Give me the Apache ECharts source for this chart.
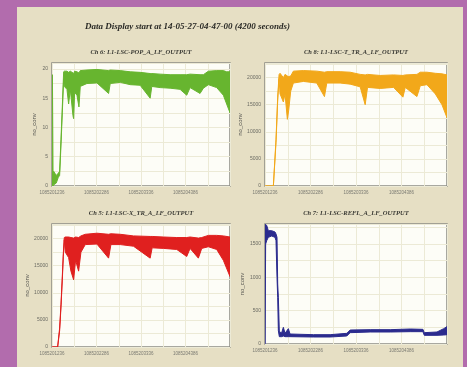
<!DOCTYPE html>
<html>
<head>
<meta charset="utf-8">
<script src="https://cdn.jsdelivr.net/npm/echarts@6/dist/echarts.min.js"></script>
<style>
  html, body { margin: 0; padding: 0; background: #b26cad; }
  #panel { position: absolute; left: 17px; top: 7px; width: 446px; height: 360px; background: #e6dfc4; }
  #chart { position: absolute; left: 0; top: 0; width: 467px; height: 367px; }
</style>
</head>
<body>
<div id="panel"></div>
<div id="chart"></div>
<script>
const GPS_START = 1085201236;
const DURATION = 4200;

// Ch 6: L1-LSC-POP_A_LF_OUTPUT (green)
const popTimes = [0, 10, 25, 40, 100, 150, 180, 212, 243, 275, 290, 353, 392, 432, 495, 510, 534, 589, 636, 667, 824, 1060, 1335, 1374, 1610, 1845, 2080, 2316, 2355, 2551, 2787, 3022, 3179, 3258, 3493, 3572, 3690, 3886, 4043, 4121, 4200];
const popLow   = [0, 0, 0, 0.2, 0.5, 1.5, 1.8, 7, 12.5, 18.3, 17, 16.5, 14, 16.5, 12, 11.5, 16, 15.5, 13.5, 17, 17.5, 17.6, 15.8, 17.5, 17.7, 17.3, 17.2, 15, 17, 16.8, 16.7, 16.5, 15.5, 16.8, 15.8, 16.7, 17.3, 16.8, 15.5, 14, 12.5];
const popHigh  = [1, 19, 2, 2.5, 1.8, 2.2, 2.5, 8, 13.5, 19.5, 19.6, 19.6, 19.4, 19.6, 19.3, 19.2, 19.6, 19.5, 19.3, 19.7, 19.8, 19.9, 19.7, 19.8, 19.7, 19.5, 19.4, 19.2, 19.2, 19.1, 19.0, 19.0, 19.0, 19.1, 19.0, 19.0, 19.6, 19.7, 19.7, 19.5, 19.5];

// Ch 8: L1-LSC-T_TR_A_LF_OUTPUT (orange)
const tTimes = [0, 193, 254, 293, 324, 347, 424, 462, 516, 547, 593, 655, 886, 1194, 1372, 1426, 1734, 1965, 2196, 2312, 2366, 2658, 2967, 3183, 3237, 3506, 3583, 3737, 3930, 4084, 4200];
const tLow   = [0, 0, 8000, 15800, 19800, 17000, 15500, 17000, 12300, 14000, 17500, 19000, 19300, 19000, 16500, 19000, 19000, 18800, 18300, 15000, 18200, 18000, 18200, 16400, 18200, 16500, 18500, 18700, 17000, 15000, 12600];
const tHigh  = [0, 0, 8600, 16400, 20550, 20800, 20000, 20600, 20300, 20200, 20300, 21200, 21300, 21200, 21000, 21100, 21100, 21000, 20600, 20500, 20600, 20400, 20500, 20400, 20500, 20600, 21000, 21000, 20800, 20700, 20500];

// Ch 5: L1-LSC-X_TR_A_LF_OUTPUT (red)
const xTimes = [0, 133, 180, 212, 243, 267, 290, 314, 392, 447, 510, 557, 628, 683, 785, 1060, 1335, 1390, 1610, 1923, 2316, 2363, 2630, 2944, 3179, 3258, 3454, 3533, 3690, 3886, 4043, 4200];
const xLow   = [0, 0, 3000, 7400, 12400, 16700, 19800, 17500, 16500, 14000, 12400, 16000, 14000, 17500, 18900, 19000, 16400, 18900, 18900, 18600, 16400, 18300, 18200, 18000, 16700, 18200, 16400, 18200, 18500, 18000, 16000, 13000];
const xHigh  = [0, 0, 3500, 7900, 13000, 17300, 20200, 20300, 20300, 20200, 20100, 20300, 20200, 20500, 20800, 21000, 20800, 20900, 20800, 20500, 20400, 20400, 20300, 20200, 20200, 20300, 20100, 20200, 20600, 20600, 20500, 20300];

// Ch 7: L1-LSC-REFL_A_LF_OUTPUT (navy)
const reflTimes = [0, 15, 39, 77, 154, 231, 254, 277, 293, 308, 331, 385, 424, 462, 539, 578, 1117, 1503, 1888, 1965, 2427, 2889, 3352, 3645, 3676, 3969, 4123, 4200];
const reflLow   = [0, 1500, 1550, 1600, 1620, 1600, 1550, 1000, 700, 200, 110, 110, 120, 110, 110, 110, 105, 105, 120, 170, 180, 180, 185, 185, 130, 130, 135, 140];
const reflHigh  = [1800, 1790, 1780, 1700, 1700, 1680, 1650, 1600, 900, 700, 180, 170, 250, 160, 230, 150, 140, 140, 160, 210, 215, 215, 225, 220, 170, 180, 230, 260];

const channels = [
  { title: "Ch 6: L1-LSC-POP_A_LF_OUTPUT", times: popTimes, low: popLow, high: popHigh, color: "#67b52f", max: 21, interval: 5, grid: { left: 52, top: 63, width: 178, height: 123 }, nameGap: 15 },
  { title: "Ch 8: L1-LSC-T_TR_A_LF_OUTPUT", times: tTimes, low: tLow, high: tHigh, color: "#f2a81a", max: 22700, interval: 5000, grid: { left: 265, top: 63, width: 182, height: 123 }, nameGap: 22 },
  { title: "Ch 5: L1-LSC-X_TR_A_LF_OUTPUT", times: xTimes, low: xLow, high: xHigh, color: "#e0201f", max: 22700, interval: 5000, grid: { left: 52, top: 224, width: 178, height: 123 }, nameGap: 22 },
  { title: "Ch 7: L1-LSC-REFL_A_LF_OUTPUT", times: reflTimes, low: reflLow, high: reflHigh, color: "#2b2b8e", max: 1800, interval: 500, grid: { left: 265, top: 224, width: 182, height: 120 }, nameGap: 20 }
];

const chart = echarts.init(document.getElementById("chart"));

const gridLine = { show: true, lineStyle: { color: "#ecead6", width: 1 } };
const labelFont = "Liberation Sans";

const grids = [], xAxes = [], yAxes = [], series = [], graphics = [];

graphics.push({
  type: "text", x: 85, y: 27,
  style: { text: "Data Display start at 14-05-27-04-47-00 (4200 seconds)", font: "italic bold 9px 'Liberation Serif'", fill: "#2a2a26", textVerticalAlign: "middle", verticalAlign: "middle" }
});

channels.forEach((ch, i) => {
  grids.push(Object.assign({ show: true, backgroundColor: "#fdfdf7", borderColor: "#8c8c84", borderWidth: 1.5 }, ch.grid));
  graphics.push({
    type: "text", x: ch.grid.left + ch.grid.width / 2, y: ch.grid.top - 11,
    style: { text: ch.title, font: "italic bold 6.5px 'Liberation Serif'", fill: "#3a3a34", textAlign: "center", align: "center", textVerticalAlign: "middle", verticalAlign: "middle" }
  });
  xAxes.push({
    gridIndex: i, type: "value", min: 0, max: DURATION, interval: 1050,
    axisLine: { show: false }, axisTick: { show: false },
    axisLabel: { fontSize: 4.5, color: "#7a7a72", fontFamily: labelFont, margin: 4, showMaxLabel: false,
      formatter: v => String(GPS_START + v) },
    splitLine: gridLine,
    minorTick: { show: false, splitNumber: 2 },
    minorSplitLine: gridLine
  });
  yAxes.push({
    gridIndex: i, type: "value", min: 0, max: ch.max, interval: ch.interval,
    name: "no_conv", nameLocation: "middle", nameGap: ch.nameGap, nameRotate: 90,
    nameTextStyle: { fontSize: 6, color: "#555550", fontFamily: labelFont },
    axisLine: { show: false }, axisTick: { show: false },
    axisLabel: { fontSize: 5, color: "#6a6a62", fontFamily: labelFont, margin: 4, showMaxLabel: false,
      formatter: v => String(v) },
    splitLine: gridLine,
    minorTick: { show: false, splitNumber: 2 },
    minorSplitLine: gridLine
  });
  // min/max envelope drawn as one filled polygon through the axis scales
  series.push({
    type: "custom", xAxisIndex: i, yAxisIndex: i, clip: true, silent: true,
    data: [[0, 0]],
    renderItem: (params, api) => {
      const upper = ch.times.map((t, k) => api.coord([t, ch.high[k]]));
      const lower = ch.times.map((t, k) => api.coord([t, ch.low[k]])).reverse();
      return {
        type: "polygon",
        shape: { points: upper.concat(lower) },
        style: { fill: ch.color, stroke: ch.color, lineWidth: 1 }
      };
    }
  });
});

chart.setOption({
  backgroundColor: "transparent",
  animation: false,
  grid: grids,
  xAxis: xAxes,
  yAxis: yAxes,
  series: series,
  graphic: graphics
});
</script>
</body>
</html>
